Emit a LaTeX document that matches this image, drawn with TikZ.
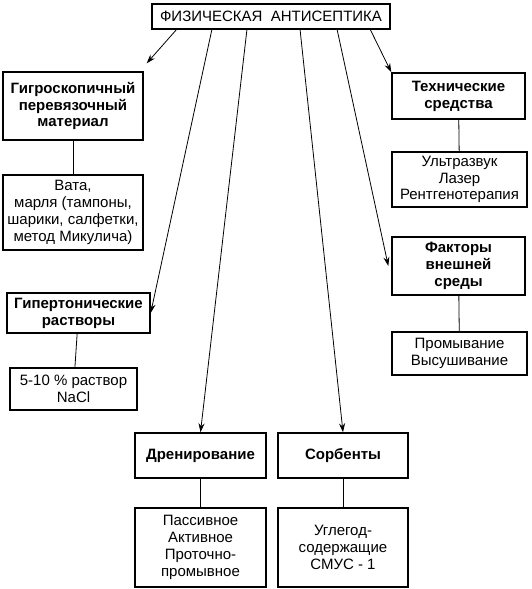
\documentclass[tikz,border=0pt]{standalone}
\usepackage{fontspec}
\setmainfont{Liberation Sans}
\usetikzlibrary{arrows.meta}
\begin{document}
\begin{tikzpicture}[x=1pt,y=-1pt,
  box/.style={draw,line width=1.4pt,rectangle,inner sep=1pt,align=center,font=\fontsize{15}{16.8}\selectfont},
  bbox/.style={box,font=\fontsize{15}{16.8}\selectfont\bfseries},
  conn/.style={line width=0.8pt},
  arr/.style={line width=0.8pt,-{Stealth[length=9pt,width=6pt]}}]
\useasboundingbox (0,0) rectangle (531,589);
\node[box,minimum width=238pt,minimum height=25pt] (top) at (271,16.5) {ФИЗИЧЕСКАЯ\ \ АНТИСЕПТИКА};
\node[bbox,minimum width=140pt,minimum height=68pt] (A1) at (73,106) {Гигроскопичный\\перевязочный\\материал};
\node[box,minimum width=140pt,minimum height=75pt] (A2) at (73,212.5) {Вата,\\марля (тампоны,\\шарики, салфетки,\\метод Микулича)};
\node[bbox,minimum width=143pt,minimum height=40pt] (B1) at (78.5,313) {Гипертонические\\растворы};
\node[box,minimum width=127pt,minimum height=42pt] (B2) at (73.5,389) {5-10 \% раствор\\NaCl};
\node[bbox,minimum width=131pt,minimum height=45pt] (C1) at (200.5,455.5) {Дренирование};
\node[box,minimum width=131pt,minimum height=79pt] (C2) at (200.5,547.5) {Пассивное\\Активное\\Проточно-\\промывное};
\node[bbox,minimum width=130pt,minimum height=45pt] (D1) at (343,455.5) {Сорбенты};
\node[box,minimum width=130pt,minimum height=79pt] (D2) at (343,547.5) {Углегод-\\содержащие\\СМУС - 1};
\node[bbox,minimum width=133pt,minimum height=46pt] (E1) at (458.5,96) {Технические\\средства};
\node[box,minimum width=135pt,minimum height=55pt] (E2) at (459.5,179.5) {Ультразвук\\Лазер\\Рентгенотерапия};
\node[bbox,minimum width=133pt,minimum height=58pt] (F1) at (458.5,266) {Факторы\\внешней\\среды};
\node[box,minimum width=135pt,minimum height=43pt] (F2) at (459.5,353.5) {Промывание\\Высушивание};
\coordinate (s1) at (177,29);
\coordinate (s2) at (212,29);
\coordinate (s3) at (247,29);
\coordinate (s4) at (300,29);
\coordinate (s5) at (337,29);
\coordinate (s6) at (370,29);
\draw[arr] (s1) -- ([shift={(3,-8)}]A1.north east);
\draw[arr] (s2) -- (B1.east);
\draw[arr] (s3) -- (C1.north);
\draw[arr] (s4) -- (D1.north);
\draw[arr] (s5) -- ([xshift=-3pt]F1.west);
\draw[arr] (s6) -- (E1.north west);
\draw[conn] (A1) -- (A2);
\draw[conn] (B1) -- (B2);
\draw[conn] (C1) -- (C2);
\draw[conn] (D1) -- (D2);
\draw[conn] (E1) -- (E2);
\draw[conn] (F1) -- (F2);
\end{tikzpicture}
\end{document}
